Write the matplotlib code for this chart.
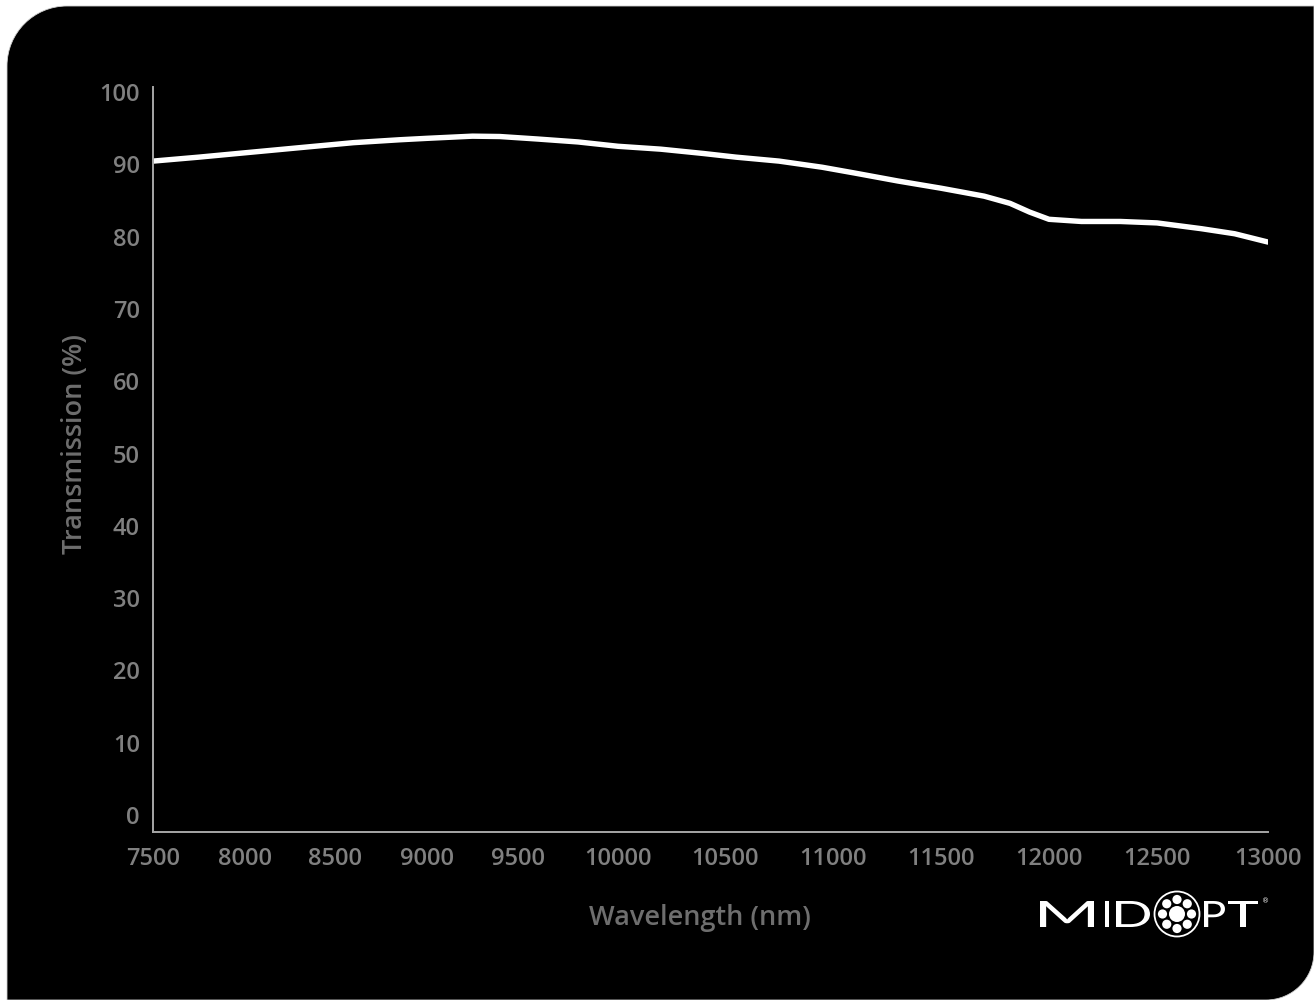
import numpy as np
import matplotlib
matplotlib.use('Agg')
import matplotlib.pyplot as plt
from matplotlib.path import Path
from matplotlib.patches import PathPatch, Circle
from matplotlib.textpath import TextPath
from matplotlib.font_manager import FontProperties
from matplotlib.transforms import Affine2D

# transmission curve (nm, %)
wavelength = [7500, 7750, 8000, 8300, 8600, 8850, 9000, 9250, 9400, 9600,
              9800, 10000, 10200, 10400, 10550, 10750, 10950, 11100, 11300, 11500,
              11700, 11820, 11910, 12000, 12150, 12330, 12500, 12700, 12850, 13000]
transmission = [90.45, 91.0, 91.6, 92.3, 93.0, 93.4, 93.6, 93.9, 93.85, 93.5,
                93.1, 92.5, 92.1, 91.5, 91.0, 90.45, 89.6, 88.8, 87.7, 86.7,
                85.6, 84.6, 83.4, 82.4, 82.1, 82.1, 81.9, 81.1, 80.4, 79.25]

x_ticks = list(range(7500, 13001, 500))
y_ticks = list(range(0, 101, 10))
# relative spacing of the wavelength labels (wider above 10000 nm)
x_tick_spacing = [0, 92, 182, 274, 365, 465, 572, 680, 788, 896, 1004, 1115]

plt.rcParams['font.family'] = ['Open Sans', 'DejaVu Sans']
plt.rcParams['font.weight'] = 'semibold'

W, H = 1314, 1000
fig = plt.figure(figsize=(W / 100, H / 100), dpi=100)
fig.patch.set_facecolor('white')

# background panel drawn in pixel units
bg = fig.add_axes([0, 0, 1, 1], zorder=0)
bg.set_xlim(0, W)
bg.set_ylim(H, 0)
bg.axis('off')

k = 0.5523
r1, r2 = 60, 48
left, top = 7, 6
verts = [(left, H), (left, top + r1),
         (left, top + r1 - k * r1), (left + r1 - k * r1, top), (left + r1, top),
         (W, top), (W, H - r2),
         (W, H - r2 + k * r2), (W - r2 + k * r2, H), (W - r2, H),
         (left, H), (left, H)]
codes = [Path.MOVETO, Path.LINETO,
         Path.CURVE4, Path.CURVE4, Path.CURVE4,
         Path.LINETO, Path.LINETO,
         Path.CURVE4, Path.CURVE4, Path.CURVE4,
         Path.LINETO, Path.CLOSEPOLY]
bg.add_patch(PathPatch(Path(verts, codes), fc='black', ec='#d0d0d0', lw=0.6))

# MIDOPT logo
logo_font = FontProperties(family='Lato', weight='normal')


def letter(ch, x0, x1, y_top, y_bottom):
    tp = TextPath((0, 0), ch, size=40, prop=logo_font)
    bb = tp.get_extents()
    sx = (x1 - x0) / bb.width
    sy = (y_bottom - y_top) / bb.height
    tr = Affine2D().translate(-bb.x0, -bb.y0).scale(sx, -sy).translate(x0, y_bottom)
    bg.add_patch(PathPatch(tr.transform_path(tp), fc='white', ec='none'))


letter('M', 1040, 1094, 901, 927)
letter('I', 1105, 1109, 901, 927)
letter('D', 1116, 1150, 901, 927)
letter('P', 1204, 1225, 901, 927)
letter('T', 1228, 1258, 901, 927)
cx, cy = 1177, 914
bg.add_patch(Circle((cx, cy), 22.5, fill=False, ec='white', lw=1.3))
bg.add_patch(Circle((cx, cy), 8, fc='white', ec='none'))
for a in np.deg2rad(np.arange(0, 360, 45)):
    bg.add_patch(Circle((cx + 14.5 * np.cos(a), cy + 14.5 * np.sin(a)), 4.6,
                        fc='white', ec='none'))
bg.text(1266, 901, '®', color='white', fontsize=5, ha='center', va='center',
        family='DejaVu Sans', fontweight='normal')

# chart
ax = fig.add_axes([153 / W, 1 - 832 / H, 1115 / W, 745 / H], zorder=1)
ax.set_facecolor('none')

frac = np.array(x_tick_spacing, dtype=float) / x_tick_spacing[-1]
ax.set_xscale('function', functions=(lambda v: np.interp(v, x_ticks, frac),
                                     lambda f: np.interp(f, frac, x_ticks)))

ax.plot(wavelength, transmission, color='white', lw=3.9,
        solid_capstyle='round', solid_joinstyle='round')

ax.set_xlim(7500, 13000)
ax.set_ylim(-2.35, 100.7)
ax.set_xticks(x_ticks)
ax.set_yticks(y_ticks)
ax.tick_params(length=0, colors='#808080', labelsize=17)
ax.tick_params(axis='y', pad=9.5)
ax.tick_params(axis='x', pad=11)

for side in ['top', 'right']:
    ax.spines[side].set_visible(False)
for side in ['left', 'bottom']:
    ax.spines[side].set_color('#a6a6a6')
    ax.spines[side].set_linewidth(1.4)

ax.set_xlabel('Wavelength (nm)', color='#6e6e6e', fontsize=19.5,
              fontweight='semibold', va='center')
ax.set_ylabel('Transmission (%)', color='#6e6e6e', fontsize=19.5,
              fontweight='semibold', va='center')
ax.xaxis.set_label_coords((700 - 153) / 1115, (832 - 918) / 745)
ax.yaxis.set_label_coords((75 - 153) / 1115, (832 - 444) / 745)

fig.savefig('out.png', dpi=100, facecolor='white')
